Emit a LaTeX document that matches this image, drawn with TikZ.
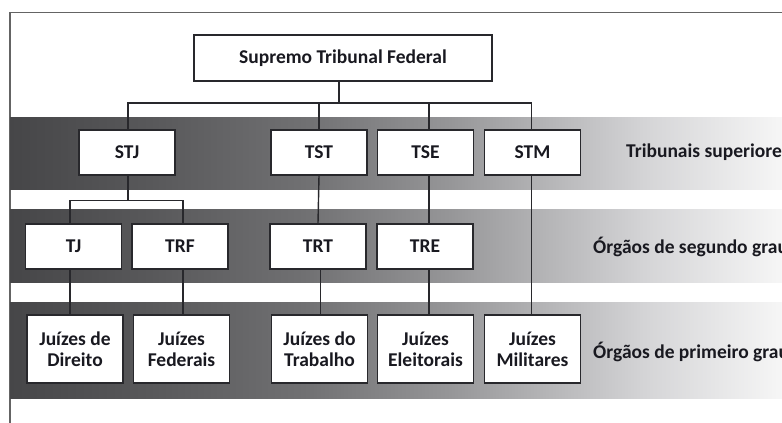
\documentclass[tikz,border=0pt]{standalone}
\usepackage{fontspec}
\setmainfont{Carlito}
\definecolor{g0}{RGB}{70,70,72}
\definecolor{g1}{RGB}{88,88,90}
\definecolor{g2}{RGB}{112,112,114}
\definecolor{g3}{RGB}{150,150,152}
\definecolor{g4}{RGB}{182,182,184}
\definecolor{g5}{RGB}{214,214,216}
\definecolor{g6}{RGB}{246,246,246}
\definecolor{boxline}{RGB}{40,40,44}
\definecolor{txt}{RGB}{25,25,32}
\definecolor{frameline}{RGB}{100,100,100}
\pgfdeclarehorizontalshading{bandshade}{100bp}{color(0bp)=(g0); color(25bp)=(g0); color(34bp)=(g1); color(44bp)=(g2); color(53.5bp)=(g3); color(60bp)=(g4); color(66.5bp)=(g5); color(75bp)=(g6); color(100bp)=(g6)}
\begin{document}
\begin{tikzpicture}[x=1pt,y=-1pt,
  box/.style={draw=boxline, line width=1.3pt, fill=white, minimum width=96pt, minimum height=45pt, inner sep=0pt, font=\bfseries\fontsize{19.5}{21}\selectfont, text=txt, align=center},
  tallbox/.style={box, minimum height=68pt},
  band/.style={shading=bandshade},
  conn/.style={draw=boxline, line width=1.4pt},
  lbl/.style={anchor=west, inner sep=0pt, font=\bfseries\fontsize{19.5}{21}\selectfont, text=txt}]
\clip (0,0) rectangle (782,423);
\fill[white] (0,0) rectangle (782,423);
% frame
\draw[frameline, line width=1.3pt] (10,423) -- (10,12.7) -- (790,12.7);
% bands
\shade[band] (10,117) rectangle (782,189);
\shade[band] (10,209) rectangle (782,282);
\shade[band] (10,302) rectangle (782,398);
% nodes
\node[box, minimum width=298pt, minimum height=46pt] (sup) at (343,58) {Supremo Tribunal Federal};
\node[box] (stj) at (127,152.5) {STJ};
\node[box] (tst) at (319,152.5) {TST};
\node[box] (tse) at (425.5,152.5) {TSE};
\node[box] (stm) at (532.5,152.5) {STM};
\node[box] (tj) at (73.5,246.5) {TJ};
\node[box] (trf) at (180,246.5) {TRF};
\node[box] (trt) at (318,246.5) {TRT};
\node[box] (tre) at (425,246.5) {TRE};
\node[tallbox] (jd) at (75,349) {Juízes de\\Direito};
\node[tallbox] (jf) at (181.5,349) {Juízes\\Federais};
\node[tallbox] (jt) at (319.5,349) {Juízes do\\Trabalho};
\node[tallbox] (je) at (425.5,349) {Juízes\\Eleitorais};
\node[tallbox] (jm) at (532.5,349) {Juízes\\Militares};
\node[lbl] (l1) at (626,152.5) {Tribunais superiores};
\node[lbl] (l2) at (593,246.5) {Órgãos de segundo grau};
\node[lbl] (l3) at (593,352) {Órgãos de primeiro grau};
% connectors
\coordinate (bus) at (339,103);
\coordinate (bus2) at (128,200.7);
\coordinate (xstj) at (128,0);
\coordinate (xtse) at (429,0);
\coordinate (xstm) at (531.5,0);
\coordinate (xtj) at (70,0);
\coordinate (xtrf) at (183,0);
\coordinate (xtrt) at (320.5,0);
\draw[conn] (sup.south -| bus) -- (bus);
\draw[conn] (stj.north -| xstj) -- (xstj |- bus) -- (xstm |- bus) -- (stm.north -| xstm);
\draw[conn] (tst.north |- bus) -- (tst.north);
\draw[conn] (xtse |- bus) -- (tse.north -| xtse);
\draw[conn] (stj.south -| xstj) -- (bus2);
\draw[conn] (tj.north -| xtj) -- (xtj |- bus2) -- (xtrf |- bus2) -- (trf.north -| xtrf);
\draw[conn] (tst.south) -- (trt.north);
\draw[conn] (tse.south -| xtse) -- (tre.north -| xtse);
\draw[conn] (stm.south -| xstm) -- (jm.north -| xstm);
\draw[conn] (tj.south -| xtj) -- (jd.north -| xtj);
\draw[conn] (trf.south -| xtrf) -- (jf.north -| xtrf);
\draw[conn] (trt.south -| xtrt) -- (jt.north -| xtrt);
\draw[conn] (tre.south -| xtse) -- (je.north -| xtse);
\end{tikzpicture}
\end{document}
